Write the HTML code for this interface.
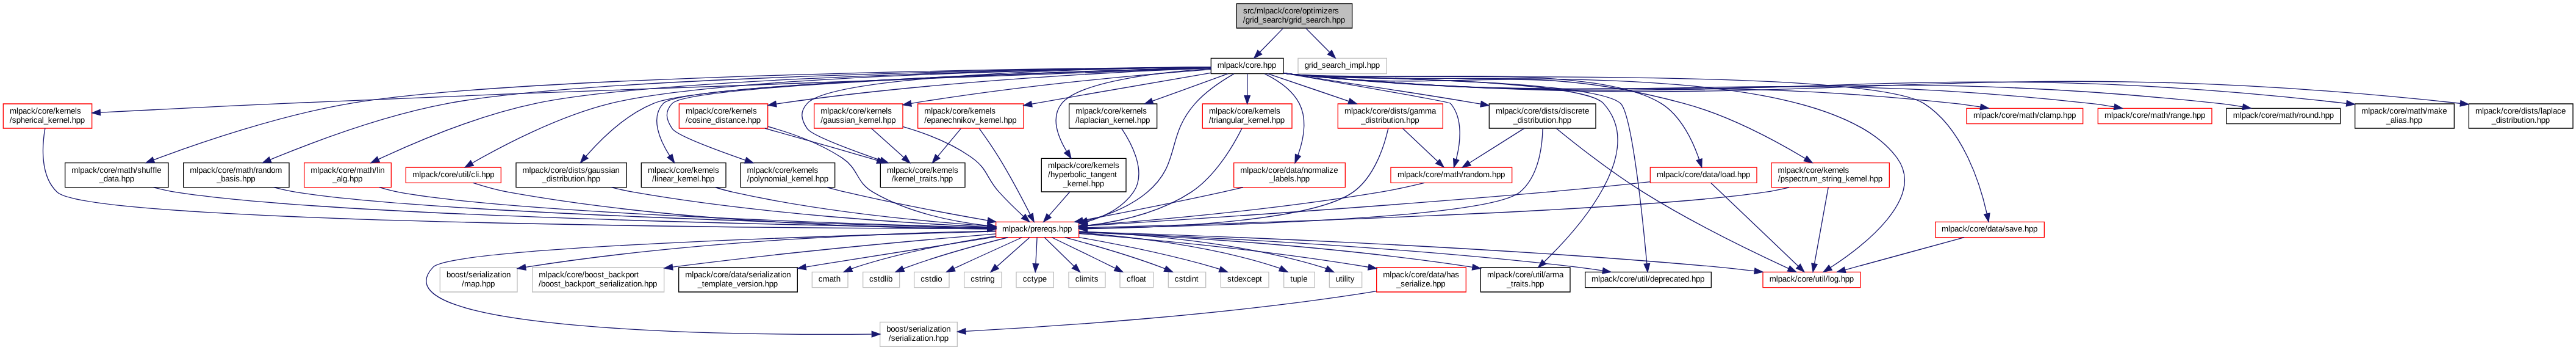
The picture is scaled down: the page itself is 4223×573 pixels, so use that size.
<!DOCTYPE html>
<html><head><meta charset="utf-8"><title>grid_search.hpp include graph</title>
<style>html,body{margin:0;padding:0;background:#fff;overflow:hidden;width:4223px;height:573px}svg{display:block;will-change:transform}text{font-family:"Liberation Sans",sans-serif;text-rendering:geometricPrecision}</style>
</head><body>
<svg width="4223" height="573" viewBox="0 0 3167.25 429.75" preserveAspectRatio="none">
<g transform="translate(4 426)" font-family="Liberation Sans, sans-serif" font-size="10">
<polygon fill="white" stroke="transparent" points="-4,4 -4,-426 3163.5,-426 3163.5,4 -4,4"/>
<g>
<polygon fill="#bfbfbf" stroke="black" points="1516.5,-391.5 1516.5,-421.5 1658.5,-421.5 1658.5,-391.5 1516.5,-391.5"/>
<text x="1524.50 1529.75 1532.75 1538.00 1541.00 1549.25 1551.50 1556.75 1562.00 1567.25 1572.50 1575.50 1580.75 1586.00 1589.00 1594.25 1597.25 1602.50 1607.75 1610.75 1613.00 1621.25 1623.50 1628.75 1634.00 1637.00" y="-409.50">src/mlpack/core/optimizers</text>
<text x="1524.39 1527.39 1532.64 1535.64 1537.89 1543.14 1548.39 1553.64 1558.89 1564.14 1567.14 1572.39 1577.64 1580.64 1585.89 1588.89 1591.14 1596.39 1601.64 1606.89 1612.14 1617.39 1620.39 1625.64 1630.89 1633.89 1639.14 1644.39" y="-398.50">/grid_search/grid_search.hpp</text>
</g>
<g>
<polygon fill="white" stroke="black" points="1485,-335.5 1485,-354.5 1574,-354.5 1574,-335.5 1485,-335.5"/>
<text x="1492.79 1501.04 1503.29 1508.54 1513.79 1519.04 1524.29 1527.29 1532.54 1537.79 1540.79 1546.04 1549.04 1554.29 1559.54" y="-342.50">mlpack/core.hpp</text>
</g>
<g>
<path fill="none" stroke="midnightblue" d="M1573.75,-391.4C1565.15,-382.58 1554.05,-371.18 1545.11,-362.02"/>
<polygon fill="midnightblue" stroke="midnightblue" points="1547.43,-359.38 1537.94,-354.66 1542.41,-364.26 1547.43,-359.38"/>
</g>
<g>
<polygon fill="white" stroke="#bfbfbf" points="1592,-335.5 1592,-354.5 1701,-354.5 1701,-335.5 1592,-335.5"/>
<text x="1600.04 1605.29 1608.29 1610.54 1615.79 1621.04 1626.29 1631.54 1636.79 1639.79 1645.04 1650.29 1655.54 1657.79 1666.04 1671.29 1673.54 1676.54 1681.79 1687.04" y="-342.50">grid_search_impl.hpp</text>
</g>
<g>
<path fill="none" stroke="midnightblue" d="M1601.48,-391.4C1610.23,-382.58 1621.53,-371.18 1630.62,-362.02"/>
<polygon fill="midnightblue" stroke="midnightblue" points="1633.36,-364.22 1637.91,-354.66 1628.39,-359.29 1633.36,-364.22"/>
</g>
<g>
<polygon fill="white" stroke="red" points="1220.5,-134.5 1220.5,-153.5 1322.5,-153.5 1322.5,-134.5 1220.5,-134.5"/>
<text x="1228.26 1236.51 1238.76 1244.01 1249.26 1254.51 1259.76 1262.76 1268.01 1271.01 1276.26 1279.26 1284.51 1289.76 1295.01 1298.01 1303.26 1308.51" y="-141.50">mlpack/prereqs.hpp</text>
</g>
<g>
<path fill="none" stroke="midnightblue" d="M1513.19,-335.39C1499.21,-327.4 1479.22,-314.43 1465.5,-299 1428.89,-257.84 1448.7,-225.41 1406.5,-190 1385.62,-172.47 1357.65,-161.7 1332.59,-155.11"/>
<polygon fill="midnightblue" stroke="midnightblue" points="1333.34,-151.68 1322.79,-152.7 1331.67,-158.48 1333.34,-151.68"/>
</g>
<g>
<polygon fill="white" stroke="black" points="1816.5,-67.5 1816.5,-97.5 1926.5,-97.5 1926.5,-67.5 1816.5,-67.5"/>
<text x="1824.50 1832.75 1835.00 1840.25 1845.50 1850.75 1856.00 1859.00 1864.25 1869.50 1872.50 1877.75 1880.75 1886.00 1889.00 1891.25 1893.50 1896.50 1901.75 1904.75 1913.00" y="-85.50">mlpack/core/util/arma</text>
<text x="1848.51 1853.76 1856.76 1859.76 1865.01 1867.26 1870.26 1875.51 1878.51 1883.76 1889.01" y="-74.50">_traits.hpp</text>
</g>
<g>
<path fill="none" stroke="midnightblue" d="M1574.25,-336.29C1577.38,-335.83 1580.48,-335.39 1583.5,-335 1626,-329.47 1938.65,-330.68 1967.5,-299 2021.22,-240.01 1937.59,-146.01 1894.54,-104.44"/>
<polygon fill="midnightblue" stroke="midnightblue" points="1896.93,-101.88 1887.27,-97.54 1892.11,-106.96 1896.93,-101.88"/>
</g>
<g>
<polygon fill="white" stroke="red" points="2163.5,-73 2163.5,-92 2283.5,-92 2283.5,-73 2163.5,-73"/>
<text x="2171.56 2179.81 2182.06 2187.31 2192.56 2197.81 2203.06 2206.06 2211.31 2216.56 2219.56 2224.81 2227.81 2233.06 2236.06 2238.31 2240.56 2243.56 2245.81 2251.06 2256.31 2259.31 2264.56 2269.81" y="-80.00">mlpack/core/util/log.hpp</text>
</g>
<g>
<path fill="none" stroke="midnightblue" d="M1574.24,-336.2C1577.37,-335.76 1580.48,-335.35 1583.5,-335 1749.5,-315.63 2229.9,-366.95 2328.5,-232 2364.26,-183.05 2287.34,-124.01 2246.62,-97.53"/>
<polygon fill="midnightblue" stroke="midnightblue" points="2248.39,-94.51 2238.07,-92.1 2244.64,-100.42 2248.39,-94.51"/>
</g>
<g>
<polygon fill="white" stroke="black" points="1945,-73 1945,-92 2100,-92 2100,-73 1945,-73"/>
<text x="1952.82 1961.07 1963.32 1968.57 1973.82 1979.07 1984.32 1987.32 1992.57 1997.82 2000.82 2006.07 2009.07 2014.32 2017.32 2019.57 2021.82 2024.82 2030.07 2035.32 2040.57 2043.57 2048.82 2054.07 2059.32 2062.32 2067.57 2072.82 2075.82 2081.07 2086.32" y="-80.00">mlpack/core/util/deprecated.hpp</text>
</g>
<g>
<path fill="none" stroke="midnightblue" d="M1574.25,-336.27C1577.38,-335.81 1580.48,-335.38 1583.5,-335 1628.31,-329.28 1955.49,-329.84 1988.5,-299 2002.88,-285.57 2016.32,-151.94 2020.87,-102.1"/>
<polygon fill="midnightblue" stroke="midnightblue" points="2024.36,-102.35 2021.77,-92.08 2017.39,-101.73 2024.36,-102.35"/>
</g>
<g>
<polygon fill="white" stroke="red" points="495,-201.5 495,-220.5 612,-220.5 612,-201.5 495,-201.5"/>
<text x="503.14 511.39 513.64 518.89 524.14 529.39 534.64 537.64 542.89 548.14 551.14 556.39 559.39 564.64 567.64 569.89 572.14 575.14 580.39 582.64 584.89 587.89 593.14 598.39" y="-208.50">mlpack/core/util/cli.hpp</text>
</g>
<g>
<path fill="none" stroke="midnightblue" d="M1484.87,-343.57C1340.61,-341.84 888.08,-333.72 746.5,-299 681.89,-283.16 612.17,-246.23 576.86,-225.95"/>
<polygon fill="midnightblue" stroke="midnightblue" points="578.25,-222.71 567.85,-220.7 574.73,-228.76 578.25,-222.71"/>
</g>
<g>
<polygon fill="white" stroke="red" points="2025,-201.5 2025,-220.5 2156,-220.5 2156,-201.5 2025,-201.5"/>
<text x="2033.01 2041.26 2043.51 2048.76 2054.01 2059.26 2064.51 2067.51 2072.76 2078.01 2081.01 2086.26 2089.26 2094.51 2099.76 2102.76 2108.01 2111.01 2113.26 2118.51 2123.76 2129.01 2132.01 2137.26 2142.51" y="-208.50">mlpack/core/data/load.hpp</text>
</g>
<g>
<path fill="none" stroke="midnightblue" d="M1574.25,-336.24C1577.37,-335.79 1580.48,-335.37 1583.5,-335 1684.17,-322.65 1952.32,-352.49 2038.5,-299 2063.59,-283.42 2078.13,-250.88 2085.17,-230.31"/>
<polygon fill="midnightblue" stroke="midnightblue" points="2088.58,-231.13 2088.26,-220.54 2081.91,-229.02 2088.58,-231.13"/>
</g>
<g>
<polygon fill="white" stroke="red" points="2375.5,-134.5 2375.5,-153.5 2509.5,-153.5 2509.5,-134.5 2375.5,-134.5"/>
<text x="2383.32 2391.57 2393.82 2399.07 2404.32 2409.57 2414.82 2417.82 2423.07 2428.32 2431.32 2436.57 2439.57 2444.82 2450.07 2453.07 2458.32 2461.32 2466.57 2471.82 2477.07 2482.32 2485.32 2490.57 2495.82" y="-141.50">mlpack/core/data/save.hpp</text>
</g>
<g>
<path fill="none" stroke="midnightblue" d="M1574.23,-336.12C1577.36,-335.7 1580.48,-335.32 1583.5,-335 1669.55,-325.87 2288.48,-345.44 2361.5,-299 2410.28,-267.98 2431.39,-197.28 2438.95,-163.56"/>
<polygon fill="midnightblue" stroke="midnightblue" points="2442.4,-164.16 2441.01,-153.65 2435.54,-162.73 2442.4,-164.16"/>
</g>
<g>
<polygon fill="white" stroke="red" points="1513,-196 1513,-226 1650,-226 1650,-196 1513,-196"/>
<text x="1521.00 1529.25 1531.50 1536.75 1542.00 1547.25 1552.50 1555.50 1560.75 1566.00 1569.00 1574.25 1577.25 1582.50 1587.75 1590.75 1596.00 1599.00 1604.25 1609.50 1612.50 1620.75 1626.00 1628.25 1630.50 1635.75" y="-214.00">mlpack/core/data/normalize</text>
<text x="1556.56 1561.81 1564.06 1569.31 1574.56 1579.81 1582.06 1587.31 1590.31 1595.56 1600.81" y="-203.00">_labels.hpp</text>
</g>
<g>
<path fill="none" stroke="midnightblue" d="M1550.98,-335.36C1565.89,-328.09 1584.61,-316.12 1593.5,-299 1603.76,-279.25 1598.42,-253.74 1591.93,-235.45"/>
<polygon fill="midnightblue" stroke="midnightblue" points="1595.19,-234.17 1588.3,-226.12 1588.66,-236.71 1595.19,-234.17"/>
</g>
<g>
<polygon fill="white" stroke="red" points="2414,-274 2414,-293 2557,-293 2557,-274 2414,-274"/>
<text x="2422.16 2430.41 2432.66 2437.91 2443.16 2448.41 2453.66 2456.66 2461.91 2467.16 2470.16 2475.41 2478.41 2486.66 2491.91 2494.91 2500.16 2503.16 2508.41 2510.66 2515.91 2524.16 2529.41 2532.41 2537.66 2542.91" y="-281.00">mlpack/core/math/clamp.hpp</text>
</g>
<g>
<path fill="none" stroke="midnightblue" d="M1574.23,-336.12C1577.36,-335.7 1580.48,-335.32 1583.5,-335 1944.53,-297.09 2038.5,-337.25 2399.5,-299 2409.77,-297.91 2420.67,-296.37 2431.14,-294.7"/>
<polygon fill="midnightblue" stroke="midnightblue" points="2431.71,-298.16 2441.01,-293.07 2430.57,-291.25 2431.71,-298.16"/>
</g>
<g>
<polygon fill="white" stroke="red" points="1706,-201.5 1706,-220.5 1855,-220.5 1855,-201.5 1706,-201.5"/>
<text x="1714.16 1722.41 1724.66 1729.91 1735.16 1740.41 1745.66 1748.66 1753.91 1759.16 1762.16 1767.41 1770.41 1778.66 1783.91 1786.91 1792.16 1795.16 1798.16 1803.41 1808.66 1813.91 1819.16 1827.41 1830.41 1835.66 1840.91" y="-208.50">mlpack/core/math/random.hpp</text>
</g>
<g>
<path fill="none" stroke="midnightblue" d="M1574.12,-336.33C1645.56,-324.01 1777.84,-300.96 1779.5,-299 1795.48,-280.11 1791.42,-249.79 1786.43,-230.39"/>
<polygon fill="midnightblue" stroke="midnightblue" points="1789.74,-229.26 1783.6,-220.63 1783.02,-231.21 1789.74,-229.26"/>
</g>
<g>
<polygon fill="white" stroke="black" points="221.5,-196 221.5,-226 351.5,-226 351.5,-196 221.5,-196"/>
<text x="229.50 237.75 240.00 245.25 250.50 255.75 261.00 264.00 269.25 274.50 277.50 282.75 285.75 294.00 299.25 302.25 307.50 310.50 313.50 318.75 324.00 329.25 334.50" y="-214.00">mlpack/core/math/random</text>
<text x="262.39 267.64 272.89 278.14 283.39 285.64 290.89 293.89 299.14 304.39" y="-203.00">_basis.hpp</text>
</g>
<g>
<path fill="none" stroke="midnightblue" d="M1484.79,-343.59C1317.7,-341.82 730.19,-333.25 546.5,-299 467.15,-284.21 378.85,-250.84 328.26,-229.99"/>
<polygon fill="midnightblue" stroke="midnightblue" points="329.54,-226.74 318.97,-226.13 326.86,-233.2 329.54,-226.74"/>
</g>
<g>
<polygon fill="white" stroke="red" points="370,-196 370,-226 477,-226 477,-196 370,-196"/>
<text x="378.00 386.25 388.50 393.75 399.00 404.25 409.50 412.50 417.75 423.00 426.00 431.25 434.25 442.50 447.75 450.75 456.00 459.00 461.25 463.50" y="-214.00">mlpack/core/math/lin</text>
<text x="404.83 410.08 415.33 417.58 422.83 425.83 431.08 436.33" y="-203.00">_alg.hpp</text>
</g>
<g>
<path fill="none" stroke="midnightblue" d="M1484.95,-343.52C1330.05,-341.57 815.69,-332.65 654.5,-299 583.81,-284.24 506.09,-251.22 461.23,-230.37"/>
<polygon fill="midnightblue" stroke="midnightblue" points="462.71,-227.2 452.17,-226.11 459.73,-233.53 462.71,-227.2"/>
</g>
<g>
<polygon fill="white" stroke="red" points="2575.5,-274 2575.5,-293 2715.5,-293 2715.5,-274 2575.5,-274"/>
<text x="2583.51 2591.76 2594.01 2599.26 2604.51 2609.76 2615.01 2618.01 2623.26 2628.51 2631.51 2636.76 2639.76 2648.01 2653.26 2656.26 2661.51 2664.51 2667.51 2672.76 2678.01 2683.26 2688.51 2691.51 2696.76 2702.01" y="-281.00">mlpack/core/math/range.hpp</text>
</g>
<g>
<path fill="none" stroke="midnightblue" d="M1574.23,-336.09C1577.36,-335.68 1580.47,-335.31 1583.5,-335 2018.46,-290.97 2131.92,-346.59 2566.5,-299 2575.96,-297.96 2586,-296.45 2595.63,-294.78"/>
<polygon fill="midnightblue" stroke="midnightblue" points="2596.26,-298.23 2605.48,-293.01 2595.01,-291.34 2596.26,-298.23"/>
</g>
<g>
<polygon fill="white" stroke="black" points="2733.5,-274 2733.5,-293 2873.5,-293 2873.5,-274 2733.5,-274"/>
<text x="2741.62 2749.88 2752.12 2757.38 2762.62 2767.88 2773.12 2776.12 2781.38 2786.62 2789.62 2794.88 2797.88 2806.12 2811.38 2814.38 2819.62 2822.62 2825.62 2830.88 2836.12 2841.38 2846.62 2849.62 2854.88 2860.12" y="-281.00">mlpack/core/math/round.hpp</text>
</g>
<g>
<path fill="none" stroke="midnightblue" d="M1574.23,-336.07C1577.36,-335.66 1580.47,-335.3 1583.5,-335 2088.41,-285.18 2220.01,-352.95 2724.5,-299 2733.97,-297.99 2744,-296.48 2753.63,-294.82"/>
<polygon fill="midnightblue" stroke="midnightblue" points="2754.26,-298.27 2763.48,-293.05 2753.02,-291.38 2754.26,-298.27"/>
</g>
<g>
<polygon fill="white" stroke="black" points="76,-196 76,-226 203,-226 203,-196 76,-196"/>
<text x="84.00 92.25 94.50 99.75 105.00 110.25 115.50 118.50 123.75 129.00 132.00 137.25 140.25 148.50 153.75 156.75 162.00 165.00 170.25 175.50 180.75 183.75 186.75 189.00" y="-214.00">mlpack/core/math/shuffle</text>
<text x="118.12 123.38 128.62 133.88 136.88 142.12 145.12 150.38 155.62" y="-203.00">_data.hpp</text>
</g>
<g>
<path fill="none" stroke="midnightblue" d="M1484.99,-343.69C1305.61,-342.19 635.31,-334.32 426.5,-299 339.09,-284.21 240.98,-250.61 185.09,-229.76"/>
<polygon fill="midnightblue" stroke="midnightblue" points="186.08,-226.39 175.49,-226.15 183.61,-232.94 186.08,-226.39"/>
</g>
<g>
<polygon fill="white" stroke="black" points="2891.5,-268.5 2891.5,-298.5 3013.5,-298.5 3013.5,-268.5 2891.5,-268.5"/>
<text x="2899.50 2907.75 2910.00 2915.25 2920.50 2925.75 2931.00 2934.00 2939.25 2944.50 2947.50 2952.75 2955.75 2964.00 2969.25 2972.25 2977.50 2980.50 2988.75 2994.00 2999.25" y="-286.50">mlpack/core/math/make</text>
<text x="2929.85 2935.10 2940.35 2942.60 2944.85 2950.10 2955.35 2958.35 2963.60 2968.85" y="-275.50">_alias.hpp</text>
</g>
<g>
<path fill="none" stroke="midnightblue" d="M1574.23,-336.06C1577.36,-335.65 1580.47,-335.29 1583.5,-335 2155,-279.72 2307.05,-364.83 2880.95,-299.03"/>
<polygon fill="midnightblue" stroke="midnightblue" points="2881.61,-302.48 2891.14,-297.85 2880.8,-295.52 2881.61,-302.48"/>
</g>
<g>
<polygon fill="white" stroke="black" points="1827,-268.5 1827,-298.5 1958,-298.5 1958,-268.5 1827,-268.5"/>
<text x="1835.00 1843.25 1845.50 1850.75 1856.00 1861.25 1866.50 1869.50 1874.75 1880.00 1883.00 1888.25 1891.25 1896.50 1898.75 1904.00 1907.00 1912.25 1915.25 1920.50 1922.75 1928.00 1933.25 1936.25 1941.50 1944.50" y="-286.50">mlpack/core/dists/discrete</text>
<text x="1856.54 1861.79 1867.04 1869.29 1874.54 1877.54 1880.54 1882.79 1888.04 1893.29 1896.29 1898.54 1903.79 1909.04 1912.04 1917.29 1922.54" y="-275.50">_distribution.hpp</text>
</g>
<g>
<path fill="none" stroke="midnightblue" d="M1574.28,-336.5C1577.4,-335.99 1580.5,-335.49 1583.5,-335 1685.2,-318.53 1710.92,-316.19 1812.5,-299 1813.79,-298.78 1815.09,-298.56 1816.41,-298.34"/>
<polygon fill="midnightblue" stroke="midnightblue" points="1817.34,-301.73 1826.6,-296.57 1816.15,-294.83 1817.34,-301.73"/>
</g>
<g>
<polygon fill="white" stroke="black" points="630.5,-196 630.5,-226 766.5,-226 766.5,-196 630.5,-196"/>
<text x="638.46 646.71 648.96 654.21 659.46 664.71 669.96 672.96 678.21 683.46 686.46 691.71 694.71 699.96 702.21 707.46 710.46 715.71 718.71 723.96 729.21 734.46 739.71 744.96 747.21 752.46" y="-214.00">mlpack/core/dists/gaussian</text>
<text x="662.54 667.79 673.04 675.29 680.54 683.54 686.54 688.79 694.04 699.29 702.29 704.54 709.79 715.04 718.04 723.29 728.54" y="-203.00">_distribution.hpp</text>
</g>
<g>
<path fill="none" stroke="midnightblue" d="M1484.97,-342.91C1336.29,-339.03 862.83,-324.76 799.5,-299 765.43,-285.14 734.74,-254.97 716.36,-234.07"/>
<polygon fill="midnightblue" stroke="midnightblue" points="718.88,-231.62 709.72,-226.3 713.56,-236.17 718.88,-231.62"/>
</g>
<g>
<polygon fill="white" stroke="black" points="3031.5,-268.5 3031.5,-298.5 3159.5,-298.5 3159.5,-268.5 3031.5,-268.5"/>
<text x="3039.50 3047.75 3050.00 3055.25 3060.50 3065.75 3071.00 3074.00 3079.25 3084.50 3087.50 3092.75 3095.75 3101.00 3103.25 3108.50 3111.50 3116.75 3119.75 3122.00 3127.25 3132.50 3134.75 3140.00 3145.25" y="-286.50">mlpack/core/dists/laplace</text>
<text x="3059.54 3064.79 3070.04 3072.29 3077.54 3080.54 3083.54 3085.79 3091.04 3096.29 3099.29 3101.54 3106.79 3112.04 3115.04 3120.29 3125.54" y="-275.50">_distribution.hpp</text>
</g>
<g>
<path fill="none" stroke="midnightblue" d="M1574.23,-336.05C1577.36,-335.65 1580.47,-335.29 1583.5,-335 2216.95,-274.59 2384.85,-368.56 3020.76,-299.05"/>
<polygon fill="midnightblue" stroke="midnightblue" points="3021.55,-302.49 3031.11,-297.91 3020.78,-295.53 3021.55,-302.49"/>
</g>
<g>
<polygon fill="white" stroke="red" points="1641,-268.5 1641,-298.5 1770,-298.5 1770,-268.5 1641,-268.5"/>
<text x="1649.00 1657.25 1659.50 1664.75 1670.00 1675.25 1680.50 1683.50 1688.75 1694.00 1697.00 1702.25 1705.25 1710.50 1712.75 1718.00 1721.00 1726.25 1729.25 1734.50 1739.75 1748.00 1756.25" y="-286.50">mlpack/core/dists/gamma</text>
<text x="1669.39 1674.64 1679.89 1682.14 1687.39 1690.39 1693.39 1695.64 1700.89 1706.14 1709.14 1711.39 1716.64 1721.89 1724.89 1730.14 1735.39" y="-275.50">_distribution.hpp</text>
</g>
<g>
<path fill="none" stroke="midnightblue" d="M1554.72,-335.48C1580.56,-326.74 1621.47,-312.91 1654.16,-301.86"/>
<polygon fill="midnightblue" stroke="midnightblue" points="1655.67,-305.04 1664.02,-298.52 1653.43,-298.41 1655.67,-305.04"/>
</g>
<g>
<polygon fill="white" stroke="black" points="1078.5,-196 1078.5,-226 1182.5,-226 1182.5,-196 1078.5,-196"/>
<text x="1086.50 1094.75 1097.00 1102.25 1107.50 1112.75 1118.00 1121.00 1126.25 1131.50 1134.50 1139.75 1142.75 1148.00 1153.25 1156.25 1161.50 1166.75 1169.00" y="-214.00">mlpack/core/kernels</text>
<text x="1092.29 1095.29 1100.54 1105.79 1108.79 1114.04 1119.29 1121.54 1126.79 1129.79 1132.79 1138.04 1140.29 1143.29 1148.54 1151.54 1156.79 1162.04" y="-203.00">/kernel_traits.hpp</text>
</g>
<g>
<path fill="none" stroke="midnightblue" d="M1484.86,-343.67C1361.33,-342.3 1021.85,-335.24 988.5,-299 979.17,-288.86 980.75,-279.39 988.5,-268 994,-259.92 1040.3,-242.56 1078.56,-229.3"/>
<polygon fill="midnightblue" stroke="midnightblue" points="1079.77,-232.58 1088.09,-226.02 1077.49,-225.96 1079.77,-232.58"/>
</g>
<g>
<polygon fill="white" stroke="black" points="784.5,-196 784.5,-226 888.5,-226 888.5,-196 784.5,-196"/>
<text x="792.50 800.75 803.00 808.25 813.50 818.75 824.00 827.00 832.25 837.50 840.50 845.75 848.75 854.00 859.25 862.25 867.50 872.75 875.00" y="-214.00">mlpack/core/kernels</text>
<text x="797.76 800.76 803.01 805.26 810.51 815.76 821.01 824.01 829.26 834.51 839.76 842.76 848.01 853.26 855.51 858.51 863.76 869.01" y="-203.00">/linear_kernel.hpp</text>
</g>
<g>
<path fill="none" stroke="midnightblue" d="M1484.88,-342.87C1331.59,-338.77 834.63,-323.62 811.5,-299 795.08,-281.52 807.12,-253.96 819.53,-234.55"/>
<polygon fill="midnightblue" stroke="midnightblue" points="822.43,-236.51 825.15,-226.27 816.64,-232.58 822.43,-236.51"/>
</g>
<g>
<polygon fill="white" stroke="black" points="906.5,-196 906.5,-226 1022.5,-226 1022.5,-196 906.5,-196"/>
<text x="914.46 922.71 924.96 930.21 935.46 940.71 945.96 948.96 954.21 959.46 962.46 967.71 970.71 975.96 981.21 984.21 989.46 994.71 996.96" y="-214.00">mlpack/core/kernels</text>
<text x="914.62 917.62 922.88 928.12 930.38 935.62 940.88 946.12 954.38 956.62 961.88 964.12 969.38 974.62 979.88 982.88 988.12 993.38 995.62 998.62 1003.88 1009.12" y="-203.00">/polynomial_kernel.hpp</text>
</g>
<g>
<path fill="none" stroke="midnightblue" d="M1484.78,-342.82C1332.92,-338.6 845.22,-323.22 822.5,-299 813.07,-288.95 814.75,-279.39 822.5,-268 828,-259.92 874.3,-242.56 912.56,-229.3"/>
<polygon fill="midnightblue" stroke="midnightblue" points="913.77,-232.58 922.09,-226.02 911.49,-225.96 913.77,-232.58"/>
</g>
<g>
<polygon fill="white" stroke="red" points="831,-268.5 831,-298.5 940,-298.5 940,-268.5 831,-268.5"/>
<text x="839.00 847.25 849.50 854.75 860.00 865.25 870.50 873.50 878.75 884.00 887.00 892.25 895.25 900.50 905.75 908.75 914.00 919.25 921.50" y="-286.50">mlpack/core/kernels</text>
<text x="838.89 841.89 847.14 852.39 857.64 859.89 865.14 870.39 875.64 880.89 883.14 888.39 891.39 896.64 901.89 907.14 912.39 915.39 920.64 925.89" y="-275.50">/cosine_distance.hpp</text>
</g>
<g>
<path fill="none" stroke="midnightblue" d="M1484.92,-342.47C1387.99,-338.72 1151,-327.22 954.5,-299 953.21,-298.81 951.9,-298.62 950.58,-298.41"/>
<polygon fill="midnightblue" stroke="midnightblue" points="950.82,-294.9 940.37,-296.7 949.66,-301.81 950.82,-294.9"/>
</g>
<g>
<polygon fill="white" stroke="red" points="997,-268.5 997,-298.5 1106,-298.5 1106,-268.5 997,-268.5"/>
<text x="1005.00 1013.25 1015.50 1020.75 1026.00 1031.25 1036.50 1039.50 1044.75 1050.00 1053.00 1058.25 1061.25 1066.50 1071.75 1074.75 1080.00 1085.25 1087.50" y="-286.50">mlpack/core/kernels</text>
<text x="1004.89 1007.89 1013.14 1018.39 1023.64 1028.89 1034.14 1036.39 1041.64 1046.89 1052.14 1057.39 1062.64 1065.64 1070.89 1076.14 1078.39 1081.39 1086.64 1091.89" y="-275.50">/gaussian_kernel.hpp</text>
</g>
<g>
<path fill="none" stroke="midnightblue" d="M1484.85,-340.83C1410.5,-335.19 1256.47,-321.95 1116.3,-299"/>
<polygon fill="midnightblue" stroke="midnightblue" points="1116.67,-295.52 1106.23,-297.33 1115.52,-302.42 1116.67,-295.52"/>
</g>
<g>
<polygon fill="white" stroke="red" points="1124.5,-268.5 1124.5,-298.5 1254.5,-298.5 1254.5,-268.5 1124.5,-268.5"/>
<text x="1132.50 1140.75 1143.00 1148.25 1153.50 1158.75 1164.00 1167.00 1172.25 1177.50 1180.50 1185.75 1188.75 1194.00 1199.25 1202.25 1207.50 1212.75 1215.00" y="-286.50">mlpack/core/kernels</text>
<text x="1132.39 1135.39 1140.64 1145.89 1151.14 1156.39 1161.64 1166.89 1172.14 1177.39 1179.64 1184.89 1190.14 1195.39 1200.64 1205.89 1211.14 1214.14 1219.39 1224.64 1226.89 1229.89 1235.14 1240.39" y="-275.50">/epanechnikov_kernel.hpp</text>
</g>
<g>
<path fill="none" stroke="midnightblue" d="M1484.68,-336.42C1432.66,-327.6 1344.33,-312.5 1268.5,-299 1267.23,-298.77 1265.94,-298.54 1264.65,-298.31"/>
<polygon fill="midnightblue" stroke="midnightblue" points="1265.05,-294.83 1254.59,-296.5 1263.81,-301.72 1265.05,-294.83"/>
</g>
<g>
<polygon fill="white" stroke="black" points="1276.5,-190.5 1276.5,-231.5 1380.5,-231.5 1380.5,-190.5 1276.5,-190.5"/>
<text x="1284.50 1292.75 1295.00 1300.25 1305.50 1310.75 1316.00 1319.00 1324.25 1329.50 1332.50 1337.75 1340.75 1346.00 1351.25 1354.25 1359.50 1364.75 1367.00" y="-219.50">mlpack/core/kernels</text>
<text x="1284.50 1287.50 1292.75 1298.00 1303.25 1308.50 1311.50 1316.75 1322.00 1324.25 1326.50 1331.75 1337.00 1340.00 1345.25 1350.50 1355.75 1361.00 1366.25" y="-208.50">/hyperbolic_tangent</text>
<text x="1303.04 1308.29 1313.54 1318.79 1321.79 1327.04 1332.29 1334.54 1337.54 1342.79 1348.04" y="-197.50">_kernel.hpp</text>
</g>
<g>
<path fill="none" stroke="midnightblue" d="M1485,-341.72C1425.34,-337.63 1324.27,-326.7 1301.5,-299 1287.78,-282.31 1296.4,-258.65 1307.42,-240.21"/>
<polygon fill="midnightblue" stroke="midnightblue" points="1310.47,-241.94 1312.93,-231.64 1304.58,-238.16 1310.47,-241.94"/>
</g>
<g>
<polygon fill="white" stroke="black" points="1310.5,-268.5 1310.5,-298.5 1418.5,-298.5 1418.5,-268.5 1310.5,-268.5"/>
<text x="1318.50 1326.75 1329.00 1334.25 1339.50 1344.75 1350.00 1353.00 1358.25 1363.50 1366.50 1371.75 1374.75 1380.00 1385.25 1388.25 1393.50 1398.75 1401.00" y="-286.50">mlpack/core/kernels</text>
<text x="1318.26 1321.26 1323.51 1328.76 1334.01 1336.26 1341.51 1346.76 1349.01 1354.26 1359.51 1364.76 1370.01 1375.26 1378.26 1383.51 1388.76 1391.01 1394.01 1399.26 1404.51" y="-275.50">/laplacian_kernel.hpp</text>
</g>
<g>
<path fill="none" stroke="midnightblue" d="M1505.86,-335.48C1481.74,-326.78 1443.61,-313.03 1413.02,-302"/>
<polygon fill="midnightblue" stroke="midnightblue" points="1413.98,-298.62 1403.39,-298.52 1411.61,-305.21 1413.98,-298.62"/>
</g>
<g>
<polygon fill="white" stroke="red" points="2174,-196 2174,-226 2319,-226 2319,-196 2174,-196"/>
<text x="2181.96 2190.21 2192.46 2197.71 2202.96 2208.21 2213.46 2216.46 2221.71 2226.96 2229.96 2235.21 2238.21 2243.46 2248.71 2251.71 2256.96 2262.21 2264.46" y="-214.00">mlpack/core/kernels</text>
<text x="2182.04 2185.04 2190.29 2195.54 2200.79 2206.04 2211.29 2214.29 2217.29 2222.54 2230.79 2236.04 2241.29 2244.29 2247.29 2249.54 2254.79 2260.04 2265.29 2270.54 2275.79 2278.79 2284.04 2289.29 2291.54 2294.54 2299.79 2305.04" y="-203.00">/pspectrum_string_kernel.hpp</text>
</g>
<g>
<path fill="none" stroke="midnightblue" d="M1574.24,-336.22C1577.37,-335.78 1580.48,-335.36 1583.5,-335 1797.22,-309.28 1858.6,-354.82 2066.5,-299 2121.89,-284.13 2180.76,-252.21 2215.55,-231.45"/>
<polygon fill="midnightblue" stroke="midnightblue" points="2217.53,-234.34 2224.28,-226.17 2213.91,-228.35 2217.53,-234.34"/>
</g>
<g>
<polygon fill="white" stroke="red" points="0,-268.5 0,-298.5 109,-298.5 109,-268.5 0,-268.5"/>
<text x="8.00 16.25 18.50 23.75 29.00 34.25 39.50 42.50 47.75 53.00 56.00 61.25 64.25 69.50 74.75 77.75 83.00 88.25 90.50" y="-286.50">mlpack/core/kernels</text>
<text x="7.85 10.85 16.10 21.35 26.60 31.85 34.85 37.10 42.35 47.60 49.85 55.10 60.35 65.60 68.60 73.85 79.10 81.35 84.35 89.60 94.85" y="-275.50">/spherical_kernel.hpp</text>
</g>
<g>
<path fill="none" stroke="midnightblue" d="M1484.87,-342.49C1328.37,-337.17 789.91,-318.52 345.5,-299 267.79,-295.59 178.45,-291.04 119.48,-287.96"/>
<polygon fill="midnightblue" stroke="midnightblue" points="119.37,-284.45 109.2,-287.42 119,-291.44 119.37,-284.45"/>
</g>
<g>
<polygon fill="white" stroke="red" points="1474.5,-268.5 1474.5,-298.5 1584.5,-298.5 1584.5,-268.5 1474.5,-268.5"/>
<text x="1482.50 1490.75 1493.00 1498.25 1503.50 1508.75 1514.00 1517.00 1522.25 1527.50 1530.50 1535.75 1538.75 1544.00 1549.25 1552.25 1557.50 1562.75 1565.00" y="-286.50">mlpack/core/kernels</text>
<text x="1482.29 1485.29 1488.29 1491.29 1493.54 1498.79 1504.04 1509.29 1514.54 1516.79 1522.04 1525.04 1530.29 1535.54 1540.79 1543.79 1549.04 1554.29 1556.54 1559.54 1564.79 1570.04" y="-275.50">/triangular_kernel.hpp</text>
</g>
<g>
<path fill="none" stroke="midnightblue" d="M1529.5,-335.48C1529.5,-328.47 1529.5,-318.19 1529.5,-308.7"/>
<polygon fill="midnightblue" stroke="midnightblue" points="1533,-308.52 1529.5,-298.52 1526,-308.52 1533,-308.52"/>
</g>
<g>
<polygon fill="white" stroke="#bfbfbf" points="994.5,-73 994.5,-92 1038.5,-92 1038.5,-73 994.5,-73"/>
<text x="1002.29 1007.54 1015.79 1021.04 1024.04" y="-80.00">cmath</text>
</g>
<g>
<path fill="none" stroke="midnightblue" d="M1220.18,-136.02C1174.43,-129.01 1106.01,-116.57 1048.5,-98 1046.63,-97.4 1044.72,-96.71 1042.81,-95.98"/>
<polygon fill="midnightblue" stroke="midnightblue" points="1044.06,-92.71 1033.49,-92.06 1041.35,-99.16 1044.06,-92.71"/>
</g>
<g>
<polygon fill="white" stroke="#bfbfbf" points="1057,-73 1057,-92 1102,-92 1102,-73 1057,-73"/>
<text x="1064.76 1070.01 1075.26 1078.26 1083.51 1085.76 1088.01" y="-80.00">cstdlib</text>
</g>
<g>
<path fill="none" stroke="midnightblue" d="M1235.1,-134.44C1202.35,-126.33 1153.11,-113.18 1111.5,-98 1109.88,-97.41 1108.24,-96.78 1106.58,-96.11"/>
<polygon fill="midnightblue" stroke="midnightblue" points="1107.81,-92.83 1097.24,-92.11 1105.06,-99.27 1107.81,-92.83"/>
</g>
<g>
<polygon fill="white" stroke="#bfbfbf" points="1120,-73 1120,-92 1163,-92 1163,-73 1120,-73"/>
<text x="1127.89 1133.14 1138.39 1141.39 1146.64 1148.89" y="-80.00">cstdio</text>
</g>
<g>
<path fill="none" stroke="midnightblue" d="M1252.49,-134.43C1232.54,-125.43 1200.27,-110.81 1172.5,-98 1171.35,-97.47 1170.17,-96.92 1168.98,-96.37"/>
<polygon fill="midnightblue" stroke="midnightblue" points="1170.39,-93.17 1159.84,-92.12 1167.43,-99.51 1170.39,-93.17"/>
</g>
<g>
<polygon fill="white" stroke="#bfbfbf" points="1181.5,-73 1181.5,-92 1227.5,-92 1227.5,-73 1181.5,-73"/>
<text x="1189.39 1194.64 1199.89 1202.89 1205.89 1208.14 1213.39" y="-80.00">cstring</text>
</g>
<g>
<path fill="none" stroke="midnightblue" d="M1261.9,-134.48C1251.45,-125.2 1234.53,-110.17 1221.76,-98.83"/>
<polygon fill="midnightblue" stroke="midnightblue" points="1223.88,-96.03 1214.08,-92.01 1219.23,-101.27 1223.88,-96.03"/>
</g>
<g>
<polygon fill="white" stroke="#bfbfbf" points="1245.5,-73 1245.5,-92 1291.5,-92 1291.5,-73 1245.5,-73"/>
<text x="1253.54 1258.79 1264.04 1267.04 1272.29 1277.54" y="-80.00">cctype</text>
</g>
<g>
<path fill="none" stroke="midnightblue" d="M1271.07,-134.48C1270.65,-126.08 1269.99,-112.98 1269.44,-102.16"/>
<polygon fill="midnightblue" stroke="midnightblue" points="1272.93,-101.82 1268.93,-92.01 1265.94,-102.17 1272.93,-101.82"/>
</g>
<g>
<polygon fill="white" stroke="#bfbfbf" points="1310,-73 1310,-92 1355,-92 1355,-73 1310,-73"/>
<text x="1318.03 1323.28 1325.53 1327.78 1336.03 1338.28 1341.28" y="-80.00">climits</text>
</g>
<g>
<path fill="none" stroke="midnightblue" d="M1280.24,-134.48C1289.66,-125.28 1304.86,-110.46 1316.45,-99.16"/>
<polygon fill="midnightblue" stroke="midnightblue" points="1319.06,-101.5 1323.78,-92.01 1314.17,-96.49 1319.06,-101.5"/>
</g>
<g>
<polygon fill="white" stroke="#bfbfbf" points="1373,-73 1373,-92 1414,-92 1414,-73 1373,-73"/>
<text x="1381.16 1386.41 1389.41 1391.66 1396.91 1402.16" y="-80.00">cfloat</text>
</g>
<g>
<path fill="none" stroke="midnightblue" d="M1289.36,-134.44C1308.11,-125.44 1338.43,-110.83 1364.5,-98 1365.34,-97.59 1366.19,-97.17 1367.05,-96.74"/>
<polygon fill="midnightblue" stroke="midnightblue" points="1368.95,-99.71 1376.34,-92.12 1365.83,-93.44 1368.95,-99.71"/>
</g>
<g>
<polygon fill="white" stroke="#bfbfbf" points="1432.5,-73 1432.5,-92 1478.5,-92 1478.5,-73 1432.5,-73"/>
<text x="1440.35 1445.60 1450.85 1453.85 1459.10 1461.35 1466.60" y="-80.00">cstdint</text>
</g>
<g>
<path fill="none" stroke="midnightblue" d="M1305.14,-134.47C1336.24,-126.25 1383.53,-112.89 1423.5,-98 1425.11,-97.4 1426.76,-96.76 1428.41,-96.09"/>
<polygon fill="midnightblue" stroke="midnightblue" points="1429.94,-99.24 1437.74,-92.07 1427.17,-92.81 1429.94,-99.24"/>
</g>
<g>
<polygon fill="white" stroke="#bfbfbf" points="1497,-73 1497,-92 1556,-92 1556,-73 1497,-73"/>
<text x="1504.97 1510.22 1513.22 1518.47 1523.72 1528.97 1534.22 1539.47 1544.72" y="-80.00">stdexcept</text>
</g>
<g>
<path fill="none" stroke="midnightblue" d="M1322.65,-134.59C1366.76,-126.8 1431.92,-114.02 1487.5,-98 1490.14,-97.24 1492.86,-96.38 1495.57,-95.48"/>
<polygon fill="midnightblue" stroke="midnightblue" points="1496.97,-98.7 1505.24,-92.06 1494.64,-92.1 1496.97,-98.7"/>
</g>
<g>
<polygon fill="white" stroke="#bfbfbf" points="1574.5,-73 1574.5,-92 1612.5,-92 1612.5,-73 1574.5,-73"/>
<text x="1582.36 1585.36 1590.61 1595.86 1598.11" y="-80.00">tuple</text>
</g>
<g>
<path fill="none" stroke="midnightblue" d="M1322.6,-140.23C1382.18,-135.85 1483.02,-124.86 1565.5,-98 1566.93,-97.53 1568.38,-97 1569.82,-96.42"/>
<polygon fill="midnightblue" stroke="midnightblue" points="1571.48,-99.51 1579.07,-92.11 1568.53,-93.16 1571.48,-99.51"/>
</g>
<g>
<polygon fill="white" stroke="#bfbfbf" points="1630.5,-73 1630.5,-92 1670.5,-92 1670.5,-73 1630.5,-73"/>
<text x="1638.35 1643.60 1646.60 1648.85 1651.10 1653.35 1656.35" y="-80.00">utility</text>
</g>
<g>
<path fill="none" stroke="midnightblue" d="M1322.75,-141.76C1391.97,-138.88 1518.5,-129.38 1621.5,-98 1623.17,-97.49 1624.85,-96.9 1626.53,-96.24"/>
<polygon fill="midnightblue" stroke="midnightblue" points="1628.18,-99.33 1635.85,-92.02 1625.29,-92.96 1628.18,-99.33"/>
</g>
<g>
<polygon fill="white" stroke="#bfbfbf" points="1078,-0.5 1078,-30.5 1173,-30.5 1173,-0.5 1078,-0.5"/>
<text x="1086.00 1091.25 1096.50 1101.75 1107.00 1110.00 1113.00 1118.25 1123.50 1126.50 1128.75 1134.00 1136.25 1138.50 1143.75 1149.00 1152.00 1154.25 1159.50" y="-18.50">boost/serialization</text>
<text x="1088.56 1091.56 1096.81 1102.06 1105.06 1107.31 1112.56 1114.81 1117.06 1122.31 1127.56 1130.56 1132.81 1138.06 1143.31 1146.31 1151.56 1156.81" y="-7.50">/serialization.hpp</text>
</g>
<g>
<path fill="none" stroke="midnightblue" d="M1220.27,-141.8C1056.06,-137.72 552.21,-123.19 528.5,-98 453.17,-17.97 903.76,-14.41 1067.63,-15.7"/>
<polygon fill="midnightblue" stroke="midnightblue" points="1067.97,-19.21 1078,-15.8 1068.03,-12.21 1067.97,-19.21"/>
</g>
<g>
<polygon fill="white" stroke="#bfbfbf" points="537,-67.5 537,-97.5 632,-97.5 632,-67.5 537,-67.5"/>
<text x="545.00 550.25 555.50 560.75 566.00 569.00 572.00 577.25 582.50 585.50 587.75 593.00 595.25 597.50 602.75 608.00 611.00 613.25 618.50" y="-85.50">boost/serialization</text>
<text x="563.76 566.76 575.01 580.26 585.51 588.51 593.76 599.01" y="-74.50">/map.hpp</text>
</g>
<g>
<path fill="none" stroke="midnightblue" d="M1220.11,-142.41C1113.85,-140.54 862.25,-132.66 642.38,-97.93"/>
<polygon fill="midnightblue" stroke="midnightblue" points="642.69,-94.43 632.26,-96.31 641.58,-101.34 642.69,-94.43"/>
</g>
<g>
<polygon fill="white" stroke="#bfbfbf" points="650.5,-67.5 650.5,-97.5 812.5,-97.5 812.5,-67.5 650.5,-67.5"/>
<text x="658.50 666.75 669.00 674.25 679.50 684.75 690.00 693.00 698.25 703.50 706.50 711.75 714.75 720.00 725.25 730.50 735.75 738.75 744.00 749.25 754.50 759.75 765.00 770.25 775.50 778.50" y="-85.50">mlpack/core/boost_backport</text>
<text x="658.26 661.26 666.51 671.76 677.01 682.26 685.26 690.51 695.76 701.01 706.26 711.51 716.76 722.01 725.01 728.01 733.26 738.51 743.76 746.76 749.01 754.26 756.51 758.76 764.01 769.26 772.26 774.51 779.76 785.01 788.01 793.26 798.51" y="-74.50">/boost_backport_serialization.hpp</text>
</g>
<g>
<path fill="none" stroke="midnightblue" d="M1220.43,-138.9C1138.74,-132.12 973.37,-117.49 823.23,-98.18"/>
<polygon fill="midnightblue" stroke="midnightblue" points="823.27,-94.65 812.9,-96.84 822.37,-101.6 823.27,-94.65"/>
</g>
<g>
<polygon fill="white" stroke="red" points="1688.5,-67.5 1688.5,-97.5 1798.5,-97.5 1798.5,-67.5 1688.5,-67.5"/>
<text x="1696.50 1704.75 1707.00 1712.25 1717.50 1722.75 1728.00 1731.00 1736.25 1741.50 1744.50 1749.75 1752.75 1758.00 1763.25 1766.25 1771.50 1774.50 1779.75 1785.00" y="-85.50">mlpack/core/data/has</text>
<text x="1712.86 1718.11 1723.36 1728.61 1731.61 1733.86 1739.11 1741.36 1743.61 1748.86 1754.11 1757.11 1762.36 1767.61" y="-74.50">_serialize.hpp</text>
</g>
<g>
<path fill="none" stroke="midnightblue" d="M1322.64,-139.23C1398.28,-133.23 1544.58,-120.08 1678.4,-98.06"/>
<polygon fill="midnightblue" stroke="midnightblue" points="1679.13,-101.49 1688.42,-96.39 1677.98,-94.58 1679.13,-101.49"/>
</g>
<g>
<polygon fill="white" stroke="black" points="830.5,-67.5 830.5,-97.5 976.5,-97.5 976.5,-67.5 830.5,-67.5"/>
<text x="838.50 846.75 849.00 854.25 859.50 864.75 870.00 873.00 878.25 883.50 886.50 891.75 894.75 900.00 905.25 908.25 913.50 916.50 921.75 927.00 930.00 932.25 937.50 939.75 942.00 947.25 952.50 955.50 957.75 963.00" y="-85.50">mlpack/core/data/serialization</text>
<text x="853.85 859.10 862.10 867.35 875.60 880.85 883.10 888.35 891.35 896.60 901.85 907.10 912.35 915.35 920.60 922.85 928.10 933.35 936.35 941.60 946.85" y="-74.50">_template_version.hpp</text>
</g>
<g>
<path fill="none" stroke="midnightblue" d="M1220.31,-135.24C1165.17,-126.82 1074.58,-112.8 986.93,-98.22"/>
<polygon fill="midnightblue" stroke="midnightblue" points="987.25,-94.73 976.81,-96.53 986.09,-101.63 987.25,-94.73"/>
</g>
<g>
<path fill="none" stroke="midnightblue" d="M1322.77,-141.07C1416.78,-137.01 1623.14,-125.72 1806.35,-98.03"/>
<polygon fill="midnightblue" stroke="midnightblue" points="1807.08,-101.46 1816.44,-96.49 1806.02,-94.54 1807.08,-101.46"/>
</g>
<g>
<path fill="none" stroke="midnightblue" d="M1322.61,-141.55C1453.61,-137.56 1812.03,-124.87 2109.5,-98 2123.57,-96.73 2138.58,-95.05 2152.93,-93.29"/>
<polygon fill="midnightblue" stroke="midnightblue" points="2153.76,-96.71 2163.24,-92 2152.88,-89.77 2153.76,-96.71"/>
</g>
<g>
<path fill="none" stroke="midnightblue" d="M1322.89,-141.22C1434.64,-136.99 1707.99,-124.6 1935.5,-98 1945.54,-96.83 1956.18,-95.29 1966.45,-93.67"/>
<polygon fill="midnightblue" stroke="midnightblue" points="1967.26,-97.08 1976.56,-92.02 1966.13,-90.17 1967.26,-97.08"/>
</g>
<g>
<path fill="none" stroke="midnightblue" d="M1688.43,-68.54C1685.42,-67.98 1682.43,-67.46 1679.5,-67 1499.66,-38.56 1284.25,-24.62 1183.19,-19.25"/>
<polygon fill="midnightblue" stroke="midnightblue" points="1183.36,-15.75 1173.19,-18.72 1182.99,-22.74 1183.36,-15.75"/>
</g>
<g>
<path fill="none" stroke="midnightblue" d="M577.74,-201.48C590.59,-197.32 606.72,-192.65 621.5,-190 835.49,-151.59 1094.55,-145.49 1210.38,-144.84"/>
<polygon fill="midnightblue" stroke="midnightblue" points="1210.49,-148.34 1220.47,-144.79 1210.46,-141.34 1210.49,-148.34"/>
</g>
<g>
<path fill="none" stroke="midnightblue" d="M2025,-202.74C1987.42,-198.7 1939.34,-193.75 1896.5,-190 1689.99,-171.93 1444.63,-155.83 1332.67,-148.78"/>
<polygon fill="midnightblue" stroke="midnightblue" points="1332.78,-145.28 1322.58,-148.14 1332.34,-152.26 1332.78,-145.28"/>
</g>
<g>
<path fill="none" stroke="midnightblue" d="M2099.64,-201.31C2121.76,-180.27 2178.4,-126.39 2206.78,-99.4"/>
<polygon fill="midnightblue" stroke="midnightblue" points="2209.46,-101.68 2214.29,-92.26 2204.64,-96.61 2209.46,-101.68"/>
</g>
<g>
<path fill="none" stroke="midnightblue" d="M2411.12,-134.48C2372.58,-124 2307.09,-106.21 2264.58,-94.66"/>
<polygon fill="midnightblue" stroke="midnightblue" points="2265.39,-91.25 2254.82,-92.01 2263.55,-98.01 2265.39,-91.25"/>
</g>
<g>
<path fill="none" stroke="midnightblue" d="M1524.42,-195.92C1515.75,-193.88 1506.9,-191.84 1498.5,-190 1440.31,-177.23 1373.37,-164.15 1327.34,-155.41"/>
<polygon fill="midnightblue" stroke="midnightblue" points="1327.74,-151.93 1317.27,-153.51 1326.44,-158.8 1327.74,-151.93"/>
</g>
<g>
<path fill="none" stroke="midnightblue" d="M1747.25,-201.48C1730.86,-197.52 1710.74,-193.04 1692.5,-190 1565.43,-168.84 1415.03,-155.56 1332.8,-149.29"/>
<polygon fill="midnightblue" stroke="midnightblue" points="1332.87,-145.79 1322.63,-148.53 1332.34,-152.77 1332.87,-145.79"/>
</g>
<g>
<path fill="none" stroke="midnightblue" d="M332.35,-195.97C341.6,-193.61 351.3,-191.45 360.5,-190 524.88,-164.04 1033.45,-150.37 1210.21,-146.31"/>
<polygon fill="midnightblue" stroke="midnightblue" points="1210.46,-149.81 1220.37,-146.08 1210.3,-142.81 1210.46,-149.81"/>
</g>
<g>
<path fill="none" stroke="midnightblue" d="M462.43,-195.97C470.31,-193.61 478.6,-191.46 486.5,-190 625.09,-164.45 1050.74,-150.84 1210.27,-146.53"/>
<polygon fill="midnightblue" stroke="midnightblue" points="1210.49,-150.03 1220.39,-146.26 1210.3,-143.03 1210.49,-150.03"/>
</g>
<g>
<path fill="none" stroke="midnightblue" d="M184.72,-195.92C193.84,-193.56 203.41,-191.42 212.5,-190 406.75,-159.66 1014.51,-148.62 1210.16,-145.8"/>
<polygon fill="midnightblue" stroke="midnightblue" points="1210.32,-149.29 1220.26,-145.65 1210.22,-142.29 1210.32,-149.29"/>
</g>
<g>
<path fill="none" stroke="midnightblue" d="M1892.8,-268.23C1892.37,-247.38 1888.18,-209.01 1864.5,-190 1823.75,-157.29 1476.64,-148.17 1333.17,-145.79"/>
<polygon fill="midnightblue" stroke="midnightblue" points="1332.85,-142.28 1322.79,-145.62 1332.73,-149.28 1332.85,-142.28"/>
</g>
<g>
<path fill="none" stroke="midnightblue" d="M1909.51,-268.38C1932.83,-249.36 1976.4,-215.03 2016.5,-190 2077.79,-151.74 2154.42,-114.99 2195.08,-96.29"/>
<polygon fill="midnightblue" stroke="midnightblue" points="2196.73,-99.38 2204.37,-92.04 2193.82,-93.01 2196.73,-99.38"/>
</g>
<g>
<path fill="none" stroke="midnightblue" d="M1870.1,-268.4C1850.49,-256.05 1822.13,-238.21 1802.6,-225.91"/>
<polygon fill="midnightblue" stroke="midnightblue" points="1804.38,-222.9 1794.06,-220.53 1800.66,-228.82 1804.38,-222.9"/>
</g>
<g>
<path fill="none" stroke="midnightblue" d="M747.53,-195.99C756.76,-193.71 766.38,-191.59 775.5,-190 930.68,-162.99 1116.17,-151.64 1210.26,-147.33"/>
<polygon fill="midnightblue" stroke="midnightblue" points="1210.61,-150.82 1220.44,-146.88 1210.3,-143.83 1210.61,-150.82"/>
</g>
<g>
<path fill="none" stroke="midnightblue" d="M1702.89,-268.48C1698.19,-247.6 1686.21,-208.76 1659.5,-190 1608.24,-153.99 1428.85,-146.52 1333,-145.15"/>
<polygon fill="midnightblue" stroke="midnightblue" points="1332.9,-141.65 1322.86,-145.02 1332.82,-148.65 1332.9,-141.65"/>
</g>
<g>
<path fill="none" stroke="midnightblue" d="M1720.68,-268.23C1733.15,-256.5 1750.82,-239.9 1763.71,-227.78"/>
<polygon fill="midnightblue" stroke="midnightblue" points="1766.15,-230.29 1771.04,-220.89 1761.36,-225.19 1766.15,-230.29"/>
</g>
<g>
<path fill="none" stroke="midnightblue" d="M875.56,-195.93C882.79,-193.69 890.32,-191.59 897.5,-190 1006.19,-165.89 1135.72,-153.95 1210.3,-148.65"/>
<polygon fill="midnightblue" stroke="midnightblue" points="1210.72,-152.13 1220.45,-147.95 1210.24,-145.15 1210.72,-152.13"/>
</g>
<g>
<path fill="none" stroke="midnightblue" d="M1013.16,-195.9C1020.94,-193.82 1028.92,-191.78 1036.5,-190 1095.09,-176.28 1162.63,-163.67 1210.22,-155.32"/>
<polygon fill="midnightblue" stroke="midnightblue" points="1211.11,-158.72 1220.36,-153.55 1209.91,-151.82 1211.11,-158.72"/>
</g>
<g>
<path fill="none" stroke="midnightblue" d="M940.14,-270.6C968.92,-262.66 1003.87,-250.27 1031.5,-232 1052.5,-218.12 1047.75,-202.67 1069.5,-190 1112.53,-164.95 1168.16,-153.83 1210.15,-148.9"/>
<polygon fill="midnightblue" stroke="midnightblue" points="1210.67,-152.37 1220.24,-147.81 1209.92,-145.41 1210.67,-152.37"/>
</g>
<g>
<path fill="none" stroke="midnightblue" d="M936.5,-268.39C972.35,-258.41 1021.42,-244.6 1064.5,-232 1067.82,-231.03 1071.23,-230.02 1074.66,-229"/>
<polygon fill="midnightblue" stroke="midnightblue" points="1075.8,-232.32 1084.38,-226.1 1073.79,-225.61 1075.8,-232.32"/>
</g>
<g>
<path fill="none" stroke="midnightblue" d="M1106.09,-270.45C1133.49,-262.59 1166.15,-250.31 1191.5,-232 1210.74,-218.1 1208.55,-207.59 1224.5,-190 1233.89,-179.64 1245.19,-168.78 1254.35,-160.33"/>
<polygon fill="midnightblue" stroke="midnightblue" points="1256.71,-162.91 1261.75,-153.59 1252,-157.73 1256.71,-162.91"/>
</g>
<g>
<path fill="none" stroke="midnightblue" d="M1067.49,-268.23C1078.91,-258.04 1094.46,-244.16 1107.26,-232.74"/>
<polygon fill="midnightblue" stroke="midnightblue" points="1109.68,-235.27 1114.81,-226 1105.02,-230.05 1109.68,-235.27"/>
</g>
<g>
<path fill="none" stroke="midnightblue" d="M1200.04,-268.2C1207.23,-258.24 1216.8,-244.54 1224.5,-232 1238.91,-208.53 1253.71,-180.32 1262.76,-162.52"/>
<polygon fill="midnightblue" stroke="midnightblue" points="1265.89,-164.08 1267.27,-153.57 1259.64,-160.93 1265.89,-164.08"/>
</g>
<g>
<path fill="none" stroke="midnightblue" d="M1177.56,-268.23C1169.32,-258.39 1158.21,-245.12 1148.86,-233.94"/>
<polygon fill="midnightblue" stroke="midnightblue" points="1151.52,-231.67 1142.42,-226.25 1146.16,-236.16 1151.52,-231.67"/>
</g>
<g>
<path fill="none" stroke="midnightblue" d="M1311.4,-190.5C1303.25,-181.2 1293.61,-170.21 1285.84,-161.36"/>
<polygon fill="midnightblue" stroke="midnightblue" points="1288.31,-158.86 1279.09,-153.65 1283.05,-163.48 1288.31,-158.86"/>
</g>
<g>
<path fill="none" stroke="midnightblue" d="M1374.95,-268.44C1387.86,-249.18 1406.2,-214.25 1389.5,-190 1376.45,-171.05 1354.27,-160.08 1332.64,-153.72"/>
<polygon fill="midnightblue" stroke="midnightblue" points="1333.34,-150.29 1322.78,-151.12 1331.55,-157.06 1333.34,-150.29"/>
</g>
<g>
<path fill="none" stroke="midnightblue" d="M2195.81,-195.91C2185.83,-193.58 2175.39,-191.46 2165.5,-190 2004.2,-166.25 1506.75,-151.2 1332.53,-146.55"/>
<polygon fill="midnightblue" stroke="midnightblue" points="1332.6,-143.05 1322.51,-146.28 1332.41,-150.04 1332.6,-143.05"/>
</g>
<g>
<path fill="none" stroke="midnightblue" d="M2243.95,-195.98C2239.79,-173.12 2231.55,-127.8 2226.9,-102.21"/>
<polygon fill="midnightblue" stroke="midnightblue" points="2230.33,-101.5 2225.1,-92.29 2223.44,-102.75 2230.33,-101.5"/>
</g>
<g>
<path fill="none" stroke="midnightblue" d="M51.41,-268.42C47.81,-247.81 44.85,-209.75 66.5,-190 109.07,-151.16 970.15,-145.84 1209.98,-145.12"/>
<polygon fill="midnightblue" stroke="midnightblue" points="1210.27,-148.61 1220.26,-145.09 1210.25,-141.61 1210.27,-148.61"/>
</g>
<g>
<path fill="none" stroke="midnightblue" d="M1523,-268.47C1512.74,-247.92 1490.8,-209.93 1460.5,-190 1422.39,-164.93 1371.81,-153.79 1332.56,-148.86"/>
<polygon fill="midnightblue" stroke="midnightblue" points="1332.92,-145.38 1322.58,-147.71 1332.12,-152.33 1332.92,-145.38"/>
</g>
</g>
</svg>
</body></html>
